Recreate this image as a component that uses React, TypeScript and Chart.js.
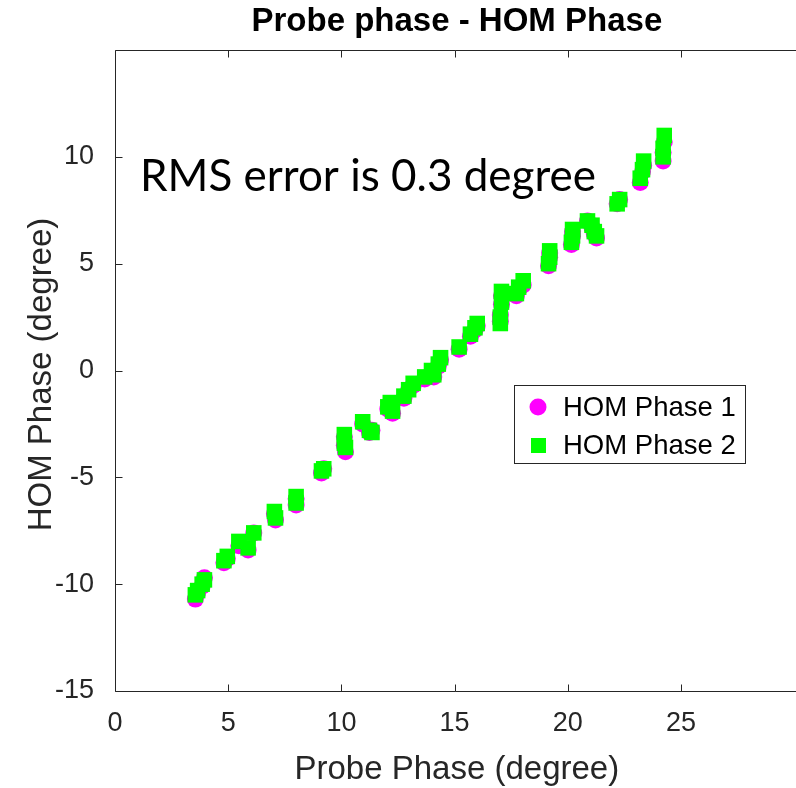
import React, { useEffect, useRef } from 'react';
import { Chart, registerables } from 'chart.js';

Chart.register(...registerables);

const probePhase = [
  3.55, 3.65, 3.85, 3.95, 4.81, 4.96, 5.47, 5.88, 6.13, 7.04, 7.09, 8.0, 8.0, 9.12,
  9.22, 10.13, 10.13, 10.18, 10.94, 11.24, 11.35, 12.16, 12.26, 12.05, 12.76, 12.97,
  13.17, 13.68, 13.98, 14.28, 14.38, 14.08, 15.2, 15.7, 15.9, 16.0, 17.02, 17.02,
  17.07, 17.07, 17.73, 17.83, 18.03, 19.15, 19.2, 19.2, 20.16, 20.21, 20.21, 20.87,
  21.07, 21.17, 21.27, 22.18, 22.29, 23.2, 23.3, 23.35, 24.21, 24.21, 24.26,
];
const homPhase1 = [
  -10.7, -10.4, -10.1, -9.7, -9.0, -8.8, -8.2, -8.4, -7.6, -6.7, -7.0, -6.0, -6.3,
  -4.8, -4.6, -3.1, -3.5, -3.8, -2.5, -2.9, -2.8, -1.6, -2.0, -1.8, -1.3, -0.9,
  -0.7, -0.4, -0.1, 0.2, 0.5, -0.3, 1.0, 1.6, 1.9, 2.1, 2.3, 2.6, 3.1, 3.5, 3.5,
  3.8, 4.0, 4.9, 5.3, 5.5, 5.9, 6.3, 6.5, 7.0, 6.7, 6.4, 6.2, 7.8, 8.0, 8.8, 9.3,
  9.6, 9.8, 10.2, 10.7,
];
const homPhase2 = [
  -10.5, -10.3, -10.0, -9.8, -8.9, -8.7, -8.0, -8.3, -7.6, -6.6, -6.9, -5.9, -6.2,
  -4.7, -4.6, -3.0, -3.4, -3.6, -2.4, -2.8, -2.9, -1.5, -1.9, -1.7, -1.2, -0.9,
  -0.6, -0.3, 0.0, 0.3, 0.6, -0.2, 1.1, 1.7, 2.0, 2.2, 2.2, 2.5, 3.2, 3.7, 3.6,
  3.9, 4.2, 5.0, 5.3, 5.6, 6.0, 6.3, 6.6, 7.0, 6.8, 6.5, 6.3, 7.8, 8.0, 9.0, 9.4,
  9.8, 10.0, 10.4, 11.0,
];

const xTickValues = [0, 5, 10, 15, 20, 25];
const yTickValues = [-15, -10, -5, 0, 5, 10];
const seriesNames = ['HOM Phase 1', 'HOM Phase 2'];
const chartTitle = 'Probe phase - HOM Phase';
const xAxisTitle = 'Probe Phase (degree)';
const yAxisTitle = 'HOM Phase (degree)';
const annotationText = 'RMS error is 0.3 degree';

const FONT = '"Liberation Sans", Arial, Helvetica, sans-serif';
const AXIS_COLOR = '#262626';
const C1 = '#ff00ff';
const C2 = '#00ff00';

const decorPlugin = {
  id: 'decor',
  afterDatasetsDraw(chart: any) {
    const { ctx, chartArea: a, scales } = chart;
    ctx.save();
    ctx.strokeStyle = AXIS_COLOR;
    ctx.lineWidth = 1;
    ctx.beginPath();
    const L = a.left + 0.5;
    const T = a.top + 0.5;
    const B = a.bottom + 0.5;
    ctx.moveTo(L, T);
    ctx.lineTo(L, B);
    ctx.lineTo(a.right, B);
    ctx.moveTo(L, T);
    ctx.lineTo(a.right, T);
    const tick = 7;
    xTickValues.forEach((v) => {
      const px = Math.round(scales.x.getPixelForValue(v)) + 0.5;
      ctx.moveTo(px, B);
      ctx.lineTo(px, B - tick);
      ctx.moveTo(px, T);
      ctx.lineTo(px, T + tick);
    });
    yTickValues.forEach((v) => {
      const py = Math.round(scales.y.getPixelForValue(v)) + 0.5;
      ctx.moveTo(L, py);
      ctx.lineTo(L + tick, py);
    });
    ctx.stroke();
    ctx.restore();
  },
  afterDraw(chart: any) {
    const { ctx, chartArea: a, scales } = chart;
    ctx.save();
    const cx = scales.x.getPixelForValue(15.1);
    // Title
    ctx.fillStyle = '#000';
    ctx.textAlign = 'center';
    ctx.textBaseline = 'middle';
    ctx.font = `bold 33px ${FONT}`;
    ctx.fillText(chartTitle, cx, 22);
    // X axis title
    ctx.fillStyle = AXIS_COLOR;
    ctx.font = `33px ${FONT}`;
    ctx.fillText(xAxisTitle, cx, 770);
    // Y axis title
    ctx.save();
    ctx.translate(42, (a.top + a.bottom) / 2 + 4);
    ctx.rotate(-Math.PI / 2);
    ctx.fillText(yAxisTitle, 0, 0);
    ctx.restore();
    // Annotation
    ctx.fillStyle = '#000';
    ctx.textAlign = 'left';
    ctx.textBaseline = 'alphabetic';
    ctx.font = `44px Lato, "Open Sans", sans-serif`;
    ctx.fillText(annotationText, 140, 191);
    // Legend
    ctx.fillStyle = '#fff';
    ctx.fillRect(514, 385, 231, 78);
    ctx.strokeStyle = AXIS_COLOR;
    ctx.lineWidth = 1;
    ctx.strokeRect(514.5, 385.5, 231, 78);
    ctx.fillStyle = C1;
    ctx.beginPath();
    ctx.arc(538, 407, 8.5, 0, Math.PI * 2);
    ctx.fill();
    ctx.fillStyle = C2;
    ctx.fillRect(531, 438, 15, 15);
    ctx.fillStyle = '#000';
    ctx.textBaseline = 'middle';
    ctx.font = `27.5px ${FONT}`;
    ctx.fillText(seriesNames[0], 563, 408);
    ctx.fillText(seriesNames[1], 563, 446);
    ctx.restore();
  },
};

export default function App() {
  const canvasRef = useRef<HTMLCanvasElement | null>(null);

  useEffect(() => {
    if (!canvasRef.current) return;
    const chart = new Chart(canvasRef.current, {
      type: 'scatter',
      data: {
        datasets: [
          {
            label: seriesNames[0],
            data: probePhase.map((x, i) => ({ x, y: homPhase1[i] })),
            pointStyle: 'circle',
            pointRadius: 8.5,
            pointHoverRadius: 8.5,
            backgroundColor: C1,
            borderWidth: 0,
            order: 2,
          },
          {
            label: seriesNames[1],
            data: probePhase.map((x, i) => ({ x, y: homPhase2[i] })),
            pointStyle: 'rect',
            pointRadius: 11,
            pointHoverRadius: 11,
            backgroundColor: C2,
            borderWidth: 0,
            order: 1,
          },
        ],
      },
      options: {
        responsive: false,
        animation: false,
        devicePixelRatio: 1,
        events: [],
        layout: { autoPadding: false, padding: { top: 50, left: 0, right: 0, bottom: 0 } },
        plugins: {
          legend: { display: false },
          title: { display: false },
          tooltip: { enabled: false },
        },
        scales: {
          x: {
            type: 'linear',
            min: 0,
            max: 30.08,
            afterBuildTicks: (s: any) => {
              s.ticks = xTickValues.map((v) => ({ value: v }));
            },
            afterFit: (s: any) => {
              s.height = 97;
              s.paddingLeft = 0;
              s.paddingRight = 0;
            },
            grid: { display: false },
            border: { display: false },
            ticks: {
              font: { family: FONT, size: 27 },
              color: AXIS_COLOR,
              padding: 8,
              maxRotation: 0,
              autoSkip: false,
            },
          },
          y: {
            type: 'linear',
            min: -15,
            max: 15,
            afterBuildTicks: (s: any) => {
              s.ticks = yTickValues.map((v) => ({ value: v }));
            },
            afterFit: (s: any) => {
              s.width = 115;
              s.paddingTop = 0;
              s.paddingBottom = 0;
            },
            grid: { display: false },
            border: { display: false },
            ticks: {
              font: { family: FONT, size: 27 },
              color: AXIS_COLOR,
              padding: 13,
              autoSkip: false,
            },
          },
        },
      },
      plugins: [decorPlugin],
    } as any);
    return () => chart.destroy();
  }, []);

  return (
    <div style={{ position: 'absolute', left: 0, top: 0, width: 796, height: 788, background: '#fff', overflow: 'hidden' }}>
      <canvas ref={canvasRef} width={796} height={788} style={{ display: 'block' }} />
    </div>
  );
}
